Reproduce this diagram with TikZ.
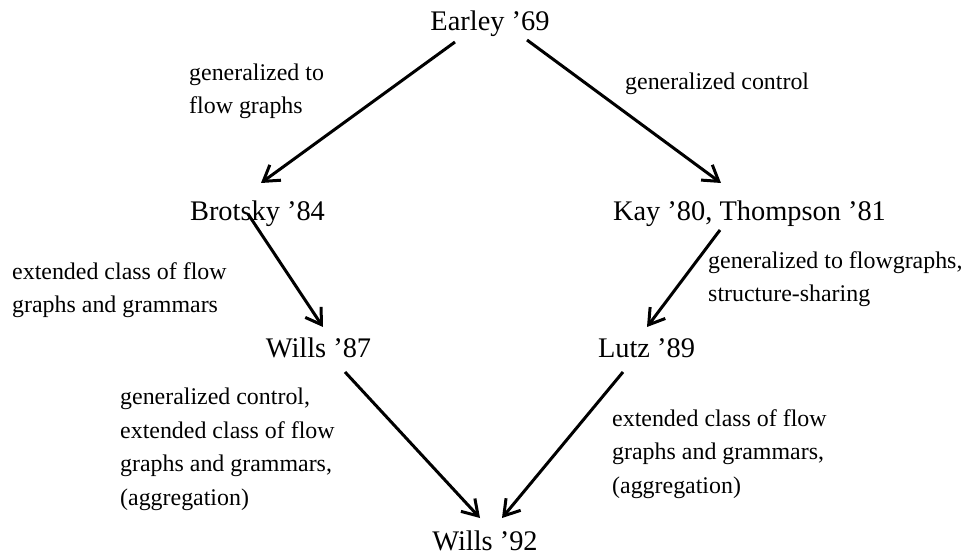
\documentclass[tikz,border=0pt]{standalone}
\usepackage{fontspec}
\setmainfont{Liberation Serif}
\usetikzlibrary{arrows.meta,calc}
\begin{document}
\begin{tikzpicture}[x=1bp,y=-1bp,
  paper/.style={inner sep=0pt,anchor=base,font=\fontsize{28.5}{34}\selectfont},
  note/.style={inner sep=0pt,anchor=base west,align=left,font=\fontsize{24}{33.5}\selectfont},
  arr/.style={line width=3bp,-{Straight Barb[length=15bp,width=19bp]}}]
\useasboundingbox[fill=white] (0,0) rectangle (967,558);
% nodes
\node[paper] (E) at (490,31) {Earley '69};
\node[paper] (B) at (257.5,221) {Brotsky '84};
\node[paper] (K) at (749.5,221) {Kay '80, Thompson '81};
\node[paper] (W) at (318.5,358) {Wills '87};
\node[paper] (L) at (646.5,358) {Lutz '89};
\node[paper] (F) at (485,550) {Wills '92};
% labels (anchored at the baseline of their last line)
\node[note] (l1) at (189,114) {generalized to\\flow graphs};
\node[note] (l2) at (625,90) {generalized control};
\node[note] (l3) at (12,313) {extended class of flow\\graphs and grammars};
\node[note] (l4) at (708,302) {generalized to flowgraphs,\\structure-sharing};
\node[note] (l5) at (120,505) {generalized control,\\extended class of flow\\graphs and grammars,\\(aggregation)};
\node[note] (l6) at (612,493) {extended class of flow\\graphs and grammars,\\(aggregation)};
% connectors
\draw[arr] ($(E.base)+(-35,11)$) -- ($(B.base)+(3.5,-38)$);
\draw[arr] ($(E.base)+(37,9)$) -- ($(K.base)+(-28.5,-38)$);
\draw[arr] ($(B.base)+(-9.5,-7)$) -- ($(W.base)+(4.5,-31)$);
\draw[arr] ($(K.base)+(-29.5,9)$) -- ($(L.base)+(0.5,-31)$);
\draw[arr] ($(W.base)+(26.5,14)$) -- ($(F.base)+(-5,-32)$);
\draw[arr] ($(L.base)+(-23.5,14)$) -- ($(F.base)+(17,-32)$);
\end{tikzpicture}
\end{document}
